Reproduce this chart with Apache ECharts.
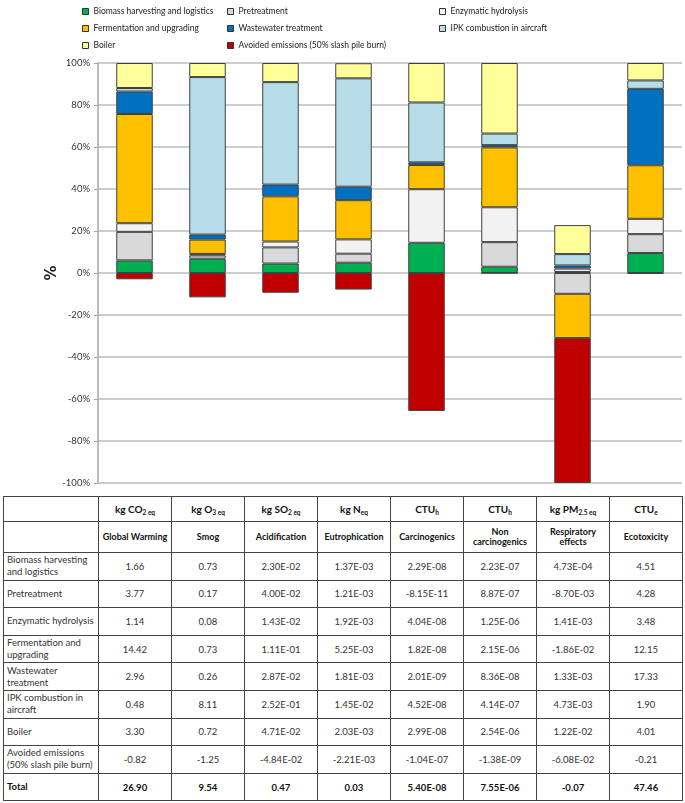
<!DOCTYPE html>
<html>
<head>
<meta charset="utf-8">
<script src="https://cdn.jsdelivr.net/npm/echarts@6/dist/echarts.min.js"></script>
<style>
  html, body { margin: 0; padding: 0; background: #fff; }
  #wrap { position: relative; width: 685px; height: 803px; overflow: hidden; }
  #chart { position: absolute; left: 0; top: 0; width: 685px; height: 490px; }
  #tbl { position: absolute; left: 3px; top: 496px; width: 680px; height: 305px; border-collapse: collapse; table-layout: fixed;
         font-family: Lato, "Open Sans", sans-serif; font-size: 9.5px; color: #333; }
  #tbl td { border: 1px solid #444; padding: 0; text-align: center; vertical-align: middle; overflow: hidden; white-space: nowrap; }
  #tbl td.lab { text-align: left; padding-left: 3px; line-height: 12px; }
  #tbl tr.h1 { height: 25px; }
  #tbl tr.h1 td { font-weight: bold; color: #111; font-size: 10px; }
  #tbl tr.h2 { height: 31px; }
  #tbl tr.h2 td { font-weight: bold; color: #111; font-size: 9px; line-height: 10px; }
  #tbl tr.d { height: 27.6px; }
  #tbl tr.tot td { font-weight: bold; color: #111; }
  #tbl sub { font-size: 6.5px; vertical-align: -2px; }
</style>
</head>
<body>
<div id="wrap">
  <div id="chart"></div>
  <table id="tbl"></table>
</div>
<script>
// ---- chart data (percent contribution) ----
var categories = ['Global Warming', 'Smog', 'Acidification', 'Eutrophication', 'Carcinogenics', 'Non carcinogenics', 'Respiratory effects', 'Ecotoxicity'];
var biomass      = [6.0, 6.8, 4.5, 4.9, 14.4, 3.0, 0.5, 9.5];
var pretreatment = [13.6, 1.6, 7.7, 4.3, -0.1, 11.7, -9.9, 9.0];
var enzymatic    = [4.1, 0.7, 2.8, 6.8, 25.5, 16.6, 1.6, 7.3];
var fermentation = [52.0, 6.8, 21.5, 18.7, 11.5, 28.5, -21.1, 25.5];
var wastewater   = [10.7, 2.4, 5.6, 6.4, 1.3, 1.1, 1.5, 36.4];
var ipk          = [1.7, 75.0, 48.8, 51.6, 28.5, 5.5, 5.4, 4.0];
var boiler       = [11.9, 6.7, 9.1, 7.2, 18.8, 33.6, 13.8, 8.3];
var avoided      = [-3.0, -11.6, -9.4, -7.9, -65.6, -0.02, -69.0, -0.4];
var yTicks = [-100, -80, -60, -40, -20, 0, 20, 40, 60, 80, 100];

// ---- table data ----
var units = ['kg CO<sub>2 eq</sub>', 'kg O<sub>3 eq</sub>', 'kg SO<sub>2 eq</sub>', 'kg N<sub>eq</sub>', 'CTU<sub>h</sub>', 'CTU<sub>h</sub>', 'kg PM<sub>2.5 eq</sub>', 'CTU<sub>e</sub>'];
var headerNames = ['Global Warming', 'Smog', 'Acidification', 'Eutrophication', 'Carcinogenics', 'Non<br>carcinogenics', 'Respiratory<br>effects', 'Ecotoxicity'];
var rowLabels = ['Biomass harvesting<br>and logistics', 'Pretreatment', 'Enzymatic hydrolysis', 'Fermentation and<br>upgrading', 'Wastewater<br>treatment', 'IPK combustion in<br>aircraft', 'Boiler', 'Avoided emissions<br>(50% slash pile burn)', 'Total'];
var rowBiomass   = ['1.66', '0.73', '2.30E-02', '1.37E-03', '2.29E-08', '2.23E-07', '4.73E-04', '4.51'];
var rowPretreat  = ['3.77', '0.17', '4.00E-02', '1.21E-03', '-8.15E-11', '8.87E-07', '-8.70E-03', '4.28'];
var rowEnzymatic = ['1.14', '0.08', '1.43E-02', '1.92E-03', '4.04E-08', '1.25E-06', '1.41E-03', '3.48'];
var rowFerment   = ['14.42', '0.73', '1.11E-01', '5.25E-03', '1.82E-08', '2.15E-06', '-1.86E-02', '12.15'];
var rowWaste     = ['2.96', '0.26', '2.87E-02', '1.81E-03', '2.01E-09', '8.36E-08', '1.33E-03', '17.33'];
var rowIPK       = ['0.48', '8.11', '2.52E-01', '1.45E-02', '4.52E-08', '4.14E-07', '4.73E-03', '1.90'];
var rowBoiler    = ['3.30', '0.72', '4.71E-02', '2.03E-03', '2.99E-08', '2.54E-06', '1.22E-02', '4.01'];
var rowAvoided   = ['-0.82', '-1.25', '-4.84E-02', '-2.21E-03', '-1.04E-07', '-1.38E-09', '-6.08E-02', '-0.21'];
var rowTotal     = ['26.90', '9.54', '0.47', '0.03', '5.40E-08', '7.55E-06', '-0.07', '47.46'];

var seriesNames = ['Biomass harvesting and logistics', 'Pretreatment', 'Enzymatic hydrolysis', 'Fermentation and upgrading', 'Wastewater treatment', 'IPK combustion in aircraft', 'Boiler', 'Avoided emissions (50% slash pile burn)'];
var seriesData = [biomass, pretreatment, enzymatic, fermentation, wastewater, ipk, boiler, avoided];
var colors = ['#00B050', '#D9D9D9', '#F2F2F2', '#FFC000', '#0070C0', '#B7DEE8', '#FFFF99', '#C00000'];

var chart = echarts.init(document.getElementById('chart'), null, { renderer: 'canvas' });
var legendText = { fontFamily: 'Lato, sans-serif', fontSize: 8.5, color: '#222' };
function legendCol(left, names) {
  return {
    orient: 'vertical', left: left, top: 2, itemWidth: 6, itemHeight: 6, itemGap: 8,
    icon: 'rect', textStyle: legendText, data: names, selectedMode: false,
    itemStyle: { borderColor: '#333', borderWidth: 1 }
  };
}
var option = {
  animation: false,
  color: colors,
  legend: [
    legendCol(77, [seriesNames[0], seriesNames[3], seriesNames[6]]),
    legendCol(222, [seriesNames[1], seriesNames[4], seriesNames[7]]),
    legendCol(434, [seriesNames[2], seriesNames[5]])
  ],
  grid: { left: 98, right: 3, top: 63, bottom: 7 },
  xAxis: {
    type: 'category', data: categories,
    axisLine: { show: false }, axisTick: { show: false }, axisLabel: { show: false },
    splitLine: { show: false }
  },
  yAxis: {
    type: 'value', min: -100, max: 100, interval: 20,
    name: '%', nameLocation: 'middle', nameGap: 38, nameRotate: 90, nameMoveOverlap: false,
    nameTextStyle: { fontFamily: 'DejaVu Sans, sans-serif', fontSize: 15, fontWeight: 'bold', color: '#222' },
    axisLine: { show: true, lineStyle: { color: '#A6A6A6', width: 1.5 } },
    axisTick: { show: true, length: 4, inside: false, lineStyle: { color: '#A6A6A6' } },
    axisLabel: {
      formatter: function (v) { return yTicks.indexOf(v) >= 0 ? v + '%' : ''; },
      fontFamily: 'Lato, sans-serif', fontSize: 9.5, color: '#333', margin: 8
    },
    splitLine: { show: true, lineStyle: { color: '#BDBDBD', width: 1.5 } }
  },
  series: seriesNames.map(function (n, i) {
    return {
      name: n, type: 'bar', stack: 'total', barWidth: '50%', data: seriesData[i],
      itemStyle: { color: colors[i], borderColor: '#404040', borderWidth: 1 }
    };
  })
};
chart.setOption(option);

// ---- table ----
var tbl = document.getElementById('tbl');
var colW = [95, 73, 73, 73, 73, 73, 73, 73, 73];
var html = '<colgroup>' + colW.map(function (w) { return '<col style="width:' + w + 'px">'; }).join('') + '</colgroup>';
html += '<tr class="h1"><td></td>' + units.map(function (u) { return '<td>' + u + '</td>'; }).join('') + '</tr>';
html += '<tr class="h2"><td></td>' + headerNames.map(function (u) { return '<td>' + u + '</td>'; }).join('') + '</tr>';
var rows = [rowBiomass, rowPretreat, rowEnzymatic, rowFerment, rowWaste, rowIPK, rowBoiler, rowAvoided, rowTotal];
rows.forEach(function (r, i) {
  var cls = i === rows.length - 1 ? 'd tot' : 'd';
  html += '<tr class="' + cls + '"><td class="lab">' + rowLabels[i] + '</td>' + r.map(function (v) { return '<td>' + v + '</td>'; }).join('') + '</tr>';
});
tbl.innerHTML = html;
</script>
</body>
</html>
